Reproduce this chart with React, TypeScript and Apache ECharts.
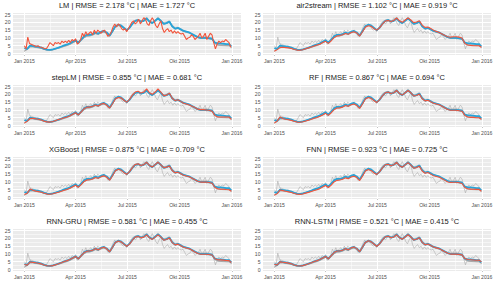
import React, { useEffect, useRef } from "react";
import * as echarts from "echarts";

// x positions: day of year 2015 (0 = 1 Jan 2015)
const days5: number[] = [];
for (let d = 0; d <= 360; d += 5) days5.push(d);
days5.push(364);
const days3: number[] = [];
for (let d = 0; d <= 363; d += 3) days3.push(d);

const observed = [
  3.5, 3.0, 5.0, 4.8, 4.5, 4.2, 3.8, 3.0, 2.5, 2.3,
  2.6, 3.2, 3.8, 4.5, 5.2, 5.8, 6.5, 7.5, 8.5, 7.0,
  9.0, 11.0, 12.0, 12.0, 12.5, 13.5, 12.8, 14.0, 14.5, 13.5,
  11.5, 14.5, 17.5, 18.5, 18.0, 16.5, 15.0, 16.5, 19.0, 21.0,
  21.5, 20.5, 21.0, 22.5, 20.5, 19.5, 21.0, 22.5, 21.0, 19.0,
  19.5, 20.5, 17.5, 16.0, 16.5, 15.5, 14.5, 14.0, 13.5, 12.5,
  11.5, 10.5, 10.0, 10.0, 10.0, 9.8, 9.5, 7.0, 6.5, 6.5,
  6.3, 6.0, 6.0, 4.5,
];

const predLM = [
  5, 3, 10.5, 6.5, 6, 5.5, 5, 4.5, 5, 4.2,
  4, 3.5, 3, 3.2, 5, 7, 6, 5, 7, 6.5,
  7, 6, 8, 7, 8, 7, 8.5, 7, 9, 8,
  9.5, 6, 7, 9, 13, 11, 14, 12, 13, 14,
  12, 15, 13, 15, 14, 13, 14.5, 15, 13, 11,
  12, 14, 17, 19, 17, 19, 18, 16, 15, 16,
  14, 16, 18, 20, 21, 19, 20, 22, 19, 21,
  23, 22, 19, 18, 21, 23, 21, 18, 16.5, 19,
  21, 16, 13.5, 15, 16, 14, 15, 13, 14.5, 13,
  14, 13, 12.5, 13, 11, 9, 10, 10.5, 12, 11,
  9, 10, 11, 13, 10, 11, 13, 9, 11, 13,
  12, 7, 3, 6, 8, 7, 8, 7.5, 9, 8,
  7, 4,
];

const predAir2stream = [
  1.5, 2.5, 3.8, 4.0, 3.8, 3.6, 3.2, 2.6, 2.2, 2.1,
  2.4, 3.0, 3.6, 4.2, 4.8, 5.4, 6.0, 7.0, 7.8, 6.5,
  8.2, 10.2, 11.2, 11.5, 12.0, 12.8, 12.3, 13.5, 14.0, 13.2,
  11.2, 14.0, 16.8, 17.8, 17.5, 16.0, 15.0, 16.5, 18.8, 20.8,
  21.2, 20.5, 21.2, 22.8, 21.0, 20.0, 21.5, 22.8, 21.5, 19.8,
  20.2, 21.0, 18.2, 16.8, 17.0, 16.0, 15.0, 14.2, 13.5, 12.5,
  11.5, 10.8, 10.5, 10.8, 10.8, 10.5, 10.0, 6.5, 5.5, 5.2,
  5.0, 5.0, 5.0, 4.0,
];

const predStepLM = [
  1.5, 2.8, 4.5, 4.6, 4.3, 4.0, 3.5, 2.8, 2.3, 2.2,
  2.6, 3.2, 3.8, 4.4, 5.0, 5.5, 6.2, 7.2, 8.2, 6.8,
  8.8, 10.8, 11.8, 11.8, 12.3, 13.2, 12.5, 13.8, 14.2, 13.0,
  11.2, 14.0, 17.0, 18.0, 17.8, 16.2, 15.0, 16.8, 19.5, 21.5,
  22.0, 20.8, 21.5, 23.5, 21.0, 20.0, 21.5, 23.5, 21.5, 19.2,
  19.5, 20.8, 17.5, 16.0, 16.5, 15.5, 14.3, 13.8, 13.2, 12.3,
  11.5, 10.5, 10.2, 10.2, 10.0, 9.8, 9.2, 6.5, 5.5, 5.5,
  5.5, 5.5, 5.5, 4.0,
];

const predRF = [
  1.5, 3.0, 5.5, 4.5, 4.0, 3.7, 3.3, 2.7, 2.2, 2.1,
  2.4, 2.9, 3.4, 4.0, 4.6, 5.2, 5.9, 6.8, 7.8, 6.5,
  8.2, 10.2, 11.2, 11.3, 11.8, 12.8, 12.3, 13.3, 13.8, 12.9,
  11.0, 13.8, 17.0, 18.0, 17.5, 16.0, 14.8, 16.5, 19.0, 21.0,
  21.5, 20.5, 21.0, 22.5, 20.5, 19.5, 21.0, 22.5, 21.0, 19.0,
  19.3, 20.2, 17.2, 15.8, 16.2, 15.2, 14.3, 13.8, 13.3, 12.3,
  11.3, 10.3, 9.8, 9.8, 9.8, 9.5, 9.2, 6.5, 5.5, 5.2,
  5.2, 5.0, 5.0, 4.0,
];

const predXGBoost = [
  2.0, 2.8, 5.5, 4.6, 4.1, 3.8, 3.4, 2.7, 2.2, 2.1,
  2.4, 2.9, 3.4, 4.0, 4.6, 5.2, 5.9, 6.9, 7.9, 6.6,
  8.3, 10.3, 11.3, 11.4, 11.9, 12.9, 12.3, 13.4, 13.9, 13.0,
  11.1, 14.0, 17.2, 18.2, 17.6, 16.1, 14.9, 16.6, 19.2, 21.2,
  21.6, 20.6, 21.1, 22.6, 20.6, 19.6, 21.1, 22.6, 21.0, 19.2,
  19.5, 20.3, 17.3, 15.9, 16.3, 15.3, 14.3, 13.8, 13.3, 12.4,
  11.4, 10.4, 9.9, 9.9, 9.9, 9.6, 9.2, 6.6, 5.6, 5.3,
  5.3, 5.1, 5.0, 4.0,
];

const predFNN = [
  1.5, 2.5, 4.8, 4.4, 4.0, 3.6, 3.2, 2.6, 2.1, 2.0,
  2.3, 2.8, 3.3, 3.9, 4.5, 5.0, 5.7, 6.7, 7.7, 6.4,
  8.0, 10.0, 11.0, 11.2, 11.7, 12.6, 12.1, 13.2, 13.7, 12.8,
  10.9, 13.7, 17.0, 18.0, 17.4, 15.9, 14.8, 16.4, 19.0, 21.0,
  21.4, 20.4, 21.0, 22.5, 20.4, 19.4, 20.9, 22.4, 20.8, 18.8,
  19.2, 20.0, 17.0, 15.6, 16.0, 15.0, 14.0, 13.5, 13.0, 12.0,
  11.0, 10.0, 9.7, 9.8, 9.8, 9.5, 9.0, 6.4, 5.6, 5.4,
  5.3, 5.2, 5.2, 4.0,
];

const predGRU = [
  3.2, 2.8, 4.8, 4.6, 4.3, 4.0, 3.6, 2.9, 2.4, 2.2,
  2.5, 3.1, 3.7, 4.4, 5.1, 5.7, 6.4, 7.4, 8.4, 6.9,
  8.9, 10.8, 11.8, 11.9, 12.4, 13.4, 12.7, 13.8, 14.3, 13.3,
  11.4, 14.3, 17.3, 18.3, 17.8, 16.3, 14.9, 16.3, 18.8, 20.8,
  21.2, 20.3, 20.8, 22.2, 20.3, 19.3, 20.8, 22.2, 20.8, 18.8,
  19.3, 20.3, 17.3, 15.8, 16.3, 15.3, 14.3, 13.8, 13.3, 12.3,
  11.3, 10.3, 9.8, 9.8, 9.8, 9.6, 9.3, 6.9, 6.3, 6.2,
  6.0, 5.8, 5.7, 4.5,
];

const predLSTM = [
  3.3, 2.9, 4.9, 4.7, 4.4, 4.1, 3.7, 2.9, 2.4, 2.2,
  2.5, 3.1, 3.7, 4.4, 5.1, 5.7, 6.4, 7.4, 8.4, 6.9,
  8.9, 10.9, 11.9, 11.9, 12.4, 13.4, 12.7, 13.9, 14.4, 13.4,
  11.4, 14.4, 17.4, 18.4, 17.9, 16.4, 14.9, 16.4, 18.9, 20.9,
  21.3, 20.4, 20.9, 22.3, 20.4, 19.4, 20.9, 22.3, 20.9, 18.9,
  19.4, 20.4, 17.4, 15.9, 16.4, 15.4, 14.4, 13.9, 13.4, 12.4,
  11.4, 10.4, 9.9, 9.9, 9.9, 9.7, 9.4, 7.0, 6.4, 6.3,
  6.1, 5.9, 6.0, 5.0,
];

const modelNames = ["LM", "air2stream", "stepLM", "RF", "XGBoost", "FNN", "RNN-GRU", "RNN-LSTM"];
const rmseValues = ["2.178", "1.102", "0.855", "0.867", "0.875", "0.923", "0.581", "0.521"];
const maeValues = ["1.727", "0.919", "0.681", "0.694", "0.709", "0.725", "0.455", "0.415"];
const modelPreds = [predLM, predAir2stream, predStepLM, predRF, predXGBoost, predFNN, predGRU, predLSTM];
const modelDays = [days3, days5, days5, days5, days5, days5, days5, days5];

const xTickValues = [0, 90, 181, 273, 365];
const xTickLabels = ["Jan 2015", "Apr 2015", "Jul 2015", "Okt 2015", "Jan 2016"];
const xMinorValues = [45, 135.5, 227, 319];
const yTickValues = [0, 5, 10, 15, 20, 25];
const yMinorValues = [2.5, 7.5, 12.5, 17.5, 22.5];

const FONT = "Liberation Sans";

function pairs(xs: number[], ys: number[]) {
  return ys.map((y, i) => [xs[i], y]);
}

export default function App() {
  const ref = useRef<HTMLDivElement>(null);
  useEffect(() => {
    document.body.style.margin = "0";
    const chart = echarts.init(ref.current!, null, { renderer: "svg" });
    const grids: any[] = [];
    const xAxes: any[] = [];
    const yAxes: any[] = [];
    const titles: any[] = [];
    const series: any[] = [];
    const plotW = 228;
    const plotH = 42;
    for (let p = 0; p < 8; p++) {
      const row = Math.floor(p / 2);
      const col = p % 2;
      const left = col === 0 ? 13 : 263;
      const top = 13 + 72 * row;
      grids.push({ left, top, width: plotW, height: plotH, show: true, backgroundColor: "#EBEBEB", borderWidth: 0 });
      titles.push({
        text: `${modelNames[p]} | RMSE = ${rmseValues[p]} °C | MAE = ${maeValues[p]} °C`,
        left: left + plotW / 2,
        top: 1.8 + 72 * row,
        textAlign: "center",
        padding: 0,
        textStyle: { fontSize: 7.5, fontWeight: "normal", color: "#1a1a1a", fontFamily: FONT },
      });
      xAxes.push({
        type: "value", gridIndex: p, min: -20, max: 381,
        splitLine: { show: false }, axisLine: { show: false },
        axisTick: { show: true, length: 2, customValues: xTickValues, lineStyle: { color: "#333", width: 0.6 } },
        axisLabel: {
          customValues: xTickValues, fontSize: 5.1, color: "#4D4D4D", margin: 3, fontFamily: FONT,
          formatter: (v: number) => { const i = xTickValues.indexOf(v); return i >= 0 ? xTickLabels[i] : ""; },
        },
      });
      yAxes.push({
        type: "value", gridIndex: p, min: -0.96, max: 26,
        splitLine: { show: false }, axisLine: { show: false },
        axisTick: { show: true, length: 2, customValues: yTickValues, lineStyle: { color: "#333", width: 0.6 } },
        axisLabel: { customValues: yTickValues, fontSize: 5.1, color: "#4D4D4D", margin: 2.5, fontFamily: FONT },
      });
      const lineData: any[] = [];
      xMinorValues.forEach((v) => lineData.push({ xAxis: v, lineStyle: { color: "#fff", width: 0.5, type: "solid" } }));
      yMinorValues.forEach((v) => lineData.push({ yAxis: v, lineStyle: { color: "#fff", width: 0.5, type: "solid" } }));
      xTickValues.forEach((v) => lineData.push({ xAxis: v, lineStyle: { color: "#fff", width: 1, type: "solid" } }));
      yTickValues.forEach((v) => lineData.push({ yAxis: v, lineStyle: { color: "#fff", width: 1, type: "solid" } }));
      series.push({
        type: "line", xAxisIndex: p, yAxisIndex: p, data: [], silent: true, z: 1,
        markLine: { silent: true, z: 1, symbol: ["none", "none"], label: { show: false }, data: lineData },
      });
      for (let m = 0; m < 8; m++) {
        if (m === p) continue;
        series.push({
          type: "line", xAxisIndex: p, yAxisIndex: p, silent: true, showSymbol: false, z: 3,
          data: pairs(modelDays[m], modelPreds[m]),
          lineStyle: { color: "#A3A3A3", width: 0.7, opacity: 0.75 },
        });
      }
      series.push({
        type: "line", xAxisIndex: p, yAxisIndex: p, silent: true, showSymbol: false, z: 4,
        data: pairs(days5, observed),
        lineStyle: { color: "#27A4D9", width: 1.8 },
      });
      series.push({
        type: "line", xAxisIndex: p, yAxisIndex: p, silent: true, showSymbol: false, z: 5,
        data: pairs(modelDays[p], modelPreds[p]),
        lineStyle: { color: "#F2553C", width: 1.1 },
      });
    }
    chart.setOption({
      animation: false,
      backgroundColor: "#fff",
      title: titles,
      grid: grids,
      xAxis: xAxes,
      yAxis: yAxes,
      series,
    });
    return () => chart.dispose();
  }, []);
  return <div ref={ref} style={{ position: "fixed", left: 0, top: 0, width: 500, height: 282 }} />;
}
